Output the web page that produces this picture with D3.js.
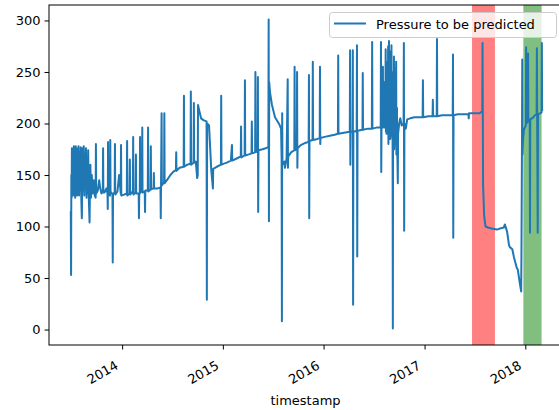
<!DOCTYPE html>
<html>
<head>
<meta charset="utf-8">
<script src="https://cdn.jsdelivr.net/npm/d3@7"></script>
<style>
  body { margin: 0; background: #fff; }
  text { font-family: "DejaVu Sans", sans-serif; fill: #000; }
</style>
</head>
<body>
<script>
// readings, one array per year: [date, pressure]
const y2013 = [
  ["2013-06-29",115],["2013-06-30",53],["2013-07-01",150],["2013-07-02",128],["2013-07-03",176],
  ["2013-07-05",130],["2013-07-06",172],["2013-07-08",135],["2013-07-10",178],["2013-07-11",130],
  ["2013-07-13",175],["2013-07-15",128],["2013-07-17",178],["2013-07-18",140],["2013-07-20",170],
  ["2013-07-22",130],["2013-07-24",176],["2013-07-25",132],["2013-07-27",178],["2013-07-29",130],
  ["2013-07-31",172],["2013-08-02",135],["2013-08-04",177],["2013-08-06",128],["2013-08-08",108],
  ["2013-08-09",130],["2013-08-11",176],["2013-08-13",135],["2013-08-15",178],["2013-08-17",130],
  ["2013-08-19",170],["2013-08-21",140],["2013-08-23",176],["2013-08-25",128],["2013-08-27",165],
  ["2013-08-29",132],["2013-08-31",174],["2013-09-02",130],["2013-09-05",104],["2013-09-06",130],
  ["2013-09-08",160],["2013-09-10",128],["2013-09-13",150],["2013-09-16",132],["2013-09-20",145],
  ["2013-09-24",130],["2013-09-27",128],["2013-09-28",180],["2013-09-29",132],["2013-10-05",135],
  ["2013-10-10",145],["2013-10-13",138],["2013-10-18",132],["2013-10-23",135],["2013-10-24",176],
  ["2013-10-25",133],["2013-10-29",133],["2013-11-05",137],["2013-11-09",132],["2013-11-10",117],
  ["2013-11-11",182],["2013-11-12",132],["2013-11-18",130],["2013-11-19",184],["2013-11-20",134],
  ["2013-11-27",131],["2013-11-28",65],["2013-11-29",132],["2013-12-05",133],["2013-12-06",180],
  ["2013-12-07",131],["2013-12-15",134],["2013-12-21",150],["2013-12-27",132],["2013-12-28",179],
  ["2013-12-29",130]
]
const y2014 = [
  ["2014-01-08",131],["2014-01-18",132],["2014-01-19",183],["2014-01-20",130],["2014-01-28",132],
  ["2014-01-29",165],["2014-01-30",131],["2014-02-05",133],["2014-02-09",134],["2014-02-10",187],
  ["2014-02-11",131],["2014-02-19",133],["2014-02-20",170],["2014-02-21",132],["2014-03-02",132],
  ["2014-03-03",108],["2014-03-04",131],["2014-03-06",132],["2014-03-07",187],["2014-03-08",133],
  ["2014-03-14",135],["2014-03-15",196],["2014-03-16",133],["2014-03-24",134],["2014-03-25",114],
  ["2014-03-26",135],["2014-04-04",135],["2014-04-05",196],["2014-04-06",134],["2014-04-14",136],
  ["2014-04-15",178],["2014-04-16",136],["2014-04-25",137],["2014-04-26",152],["2014-04-27",137],
  ["2014-05-10",137],["2014-05-20",138],["2014-05-21",108],["2014-05-22",140],["2014-05-24",210],
  ["2014-05-25",140],["2014-06-02",143],["2014-06-03",210],["2014-06-04",142],["2014-06-15",146],
  ["2014-06-25",150],["2014-07-05",153],["2014-07-15",155],["2014-07-16",172],["2014-07-17",154],
  ["2014-07-28",157],["2014-08-12",158],["2014-08-13",227],["2014-08-14",158],["2014-08-25",160],
  ["2014-09-06",161],["2014-09-07",231],["2014-09-08",160],["2014-09-17",162],["2014-09-18",220],
  ["2014-09-19",162],["2014-09-25",163],["2014-09-30",147],["2014-10-02",150],["2014-10-03",218],
  ["2014-10-08",212],["2014-10-14",205],["2014-10-24",203],["2014-11-03",202],["2014-11-04",29],
  ["2014-11-05",200],["2014-11-12",198],["2014-11-20",155],["2014-11-26",137],["2014-11-27",156],
  ["2014-12-10",158],["2014-12-25",160],["2014-12-26",227],["2014-12-27",160]
]
const y2015 = [
  ["2015-01-05",161],["2015-01-15",162],["2015-01-30",164],["2015-02-03",179],["2015-02-04",164],
  ["2015-02-20",166],["2015-03-07",168],["2015-03-08",197],["2015-03-09",167],["2015-03-21",169],
  ["2015-03-22",242],["2015-03-23",169],["2015-04-05",170],["2015-04-15",171],["2015-04-16",202],
  ["2015-04-17",171],["2015-04-28",172],["2015-04-29",250],["2015-04-30",173],["2015-05-07",172],
  ["2015-05-08",245],["2015-05-09",114],["2015-05-10",174],["2015-05-25",175],["2015-06-05",176],
  ["2015-06-15",177],["2015-06-16",301],["2015-06-17",105],["2015-06-18",240],["2015-06-21",230],
  ["2015-06-28",218],["2015-07-09",206],["2015-07-25",199],["2015-07-31",195],["2015-08-02",165],
  ["2015-08-03",8],["2015-08-04",210],["2015-08-05",160],["2015-08-12",163],["2015-08-14",157],
  ["2015-08-20",166],["2015-08-24",243],["2015-08-25",157],["2015-08-26",168],["2015-09-05",172],
  ["2015-09-17",174],["2015-09-18",255],["2015-09-19",174],["2015-09-26",175],["2015-09-27",250],
  ["2015-09-28",157],["2015-09-29",176],["2015-10-10",179],["2015-10-25",181],["2015-11-08",182],
  ["2015-11-09",247],["2015-11-10",108],["2015-11-11",183],["2015-11-22",184],["2015-11-23",260],
  ["2015-11-24",184],["2015-12-10",185],["2015-12-18",186],["2015-12-19",255],["2015-12-20",180],
  ["2015-12-21",186]
]
const y2016 = [
  ["2016-01-05",187],["2016-01-24",188],["2016-02-10",189],["2016-02-22",190],["2016-02-23",266],
  ["2016-02-24",190],["2016-03-15",191],["2016-04-05",192],["2016-04-06",271],["2016-04-07",160],
  ["2016-04-08",192],["2016-04-15",192],["2016-04-16",271],["2016-04-17",24],["2016-04-18",192],
  ["2016-04-30",193],["2016-05-01",276],["2016-05-02",71],["2016-05-03",193],["2016-05-21",194],
  ["2016-05-22",249],["2016-05-23",194],["2016-06-10",195],["2016-06-24",195],["2016-06-25",279],
  ["2016-06-26",195],["2016-07-10",196],["2016-07-26",196],["2016-07-27",279],["2016-07-28",153],
  ["2016-07-29",196],["2016-08-02",197],["2016-08-03",255],["2016-08-04",196],["2016-08-05",197],
  ["2016-08-08",240],["2016-08-09",196],["2016-08-12",198],["2016-08-13",272],["2016-08-14",192],
  ["2016-08-15",260],["2016-08-16",190],["2016-08-20",198],["2016-08-22",275],["2016-08-23",180],
  ["2016-08-25",280],["2016-08-26",200],["2016-08-28",266],["2016-08-29",185],["2016-09-01",270],
  ["2016-09-02",190],["2016-09-03",276],["2016-09-04",188],["2016-09-05",250],["2016-09-06",185],
  ["2016-09-07",200],["2016-09-08",1],["2016-09-09",210],["2016-09-10",240],["2016-09-11",178],
  ["2016-09-12",265],["2016-09-13",175],["2016-09-16",230],["2016-09-17",180],["2016-09-20",260],
  ["2016-09-21",170],["2016-09-23",215],["2016-09-24",176],["2016-09-26",142],["2016-09-27",190],
  ["2016-10-01",200],["2016-10-05",205],["2016-10-10",198],["2016-10-17",200],["2016-10-18",278],
  ["2016-10-19",96],["2016-10-20",200],["2016-10-25",195],["2016-10-30",204],["2016-11-10",205],
  ["2016-11-25",206],["2016-12-10",206],["2016-12-25",206],["2016-12-26",242],["2016-12-27",206]
]
const y2017 = [
  ["2017-01-15",207],["2017-01-30",207],["2017-01-31",223],["2017-02-01",207],["2017-02-14",207],
  ["2017-02-15",282],["2017-02-16",207],["2017-03-05",208],["2017-03-25",208],["2017-04-13",208],
  ["2017-04-14",267],["2017-04-15",89],["2017-04-16",208],["2017-05-01",209],["2017-05-20",209],
  ["2017-06-09",209],["2017-06-10",205],["2017-06-11",210],["2017-07-01",210],["2017-07-20",210],
  ["2017-07-29",212],["2017-07-30",278],["2017-07-31",210],["2017-08-01",140],["2017-08-05",110],
  ["2017-08-10",100],["2017-08-19",99],["2017-09-01",98],["2017-09-20",97],["2017-10-01",98],
  ["2017-10-15",99],["2017-10-19",102],["2017-10-27",95],["2017-11-03",82],["2017-11-06",80],
  ["2017-11-15",78],["2017-11-21",70],["2017-12-01",60],["2017-12-05",58],["2017-12-12",45],
  ["2017-12-17",37],["2017-12-18",70],["2017-12-20",180],["2017-12-21",262],["2017-12-22",170],
  ["2017-12-24",185],["2017-12-27",194]
]
const y2018 = [
  ["2018-01-03",198],["2018-01-04",274],["2018-01-05",200],["2018-01-10",202],["2018-01-11",268],
  ["2018-01-12",202],["2018-01-17",203],["2018-01-18",94],["2018-01-19",204],["2018-01-30",206],
  ["2018-02-05",208],["2018-02-11",209],["2018-02-12",273],["2018-02-13",208],["2018-02-15",94],
  ["2018-02-16",209],["2018-02-25",210],["2018-03-01",211],["2018-03-02",278],["2018-03-03",212]
]

const bandStart = ["2017-06-22", "2017-12-25"]
const bandEnd = ["2017-09-13", "2018-03-01"]
const bandColor = ["#ff8080", "#80bf80"]
const xTickYears = ["2014", "2015", "2016", "2017", "2018"]
const yTicks = [0, 50, 100, 150, 200, 250, 300]
const seriesName = "Pressure to be predicted"

const width = 559
const height = 410
const mLeft = 49, mRight = 562, mTop = 5, mBottom = 345

const parse = d3.utcParse("%Y-%m-%d")
const series = [].concat(y2013, y2014, y2015, y2016, y2017, y2018)
    .map(d => ({ date: parse(d[0]), value: d[1] }))

const svg = d3.select("body").append("svg")
    .attr("width", width)
    .attr("height", height)

const xScale = d3.scaleUtc()
    .domain([parse("2013-04-11"), parse("2018-05-14")])
    .range([mLeft, mRight])
const yScale = d3.scaleLinear()
    .domain([-15, 315])
    .range([mBottom, mTop])

svg.append("clipPath").attr("id", "plot")
    .append("rect")
    .attr("x", mLeft).attr("y", mTop)
    .attr("width", mRight - mLeft).attr("height", mBottom - mTop)

// shaded periods
svg.append("g")
    .selectAll("rect")
    .data(bandStart)
    .enter()
    .append("rect")
    .attr("x", d => xScale(parse(d)))
    .attr("y", mTop)
    .attr("width", (d, i) => xScale(parse(bandEnd[i])) - xScale(parse(d)))
    .attr("height", mBottom - mTop)
    .attr("fill", (d, i) => bandColor[i])

const line = d3.line()
    .x(d => xScale(d.date))
    .y(d => yScale(d.value))

svg.append("path")
    .datum(series)
    .attr("clip-path", "url(#plot)")
    .attr("d", line)
    .attr("fill", "none")
    .attr("stroke", "#1f77b4")
    .attr("stroke-width", 2)
    .attr("stroke-linejoin", "round")

// axes
const xAxis = d3.axisBottom(xScale)
    .tickValues(xTickYears.map(y => parse(y + "-01-01")))
    .tickSize(4.5)
    .tickFormat(d3.utcFormat("%Y"))
const gx = svg.append("g")
    .attr("transform", "translate(0," + mBottom + ")")
    .call(xAxis)
gx.select(".domain").remove()
gx.selectAll(".tick line").attr("stroke", "#000").attr("stroke-width", 1)
gx.selectAll(".tick text")
    .attr("font-size", 13)
    .attr("text-anchor", "end")
    .attr("dy", null)
    .attr("y", null)
    .attr("transform", "translate(-3.5,23) rotate(-30)")

const yAxis = d3.axisLeft(yScale)
    .tickValues(yTicks)
    .tickSize(4.5)
    .tickPadding(4)
const gy = svg.append("g")
    .attr("transform", "translate(" + mLeft + ",0)")
    .call(yAxis)
gy.select(".domain").remove()
gy.selectAll(".tick line").attr("stroke", "#000").attr("stroke-width", 1)
gy.selectAll(".tick text").attr("font-size", 13)

svg.append("rect")
    .attr("x", mLeft).attr("y", mTop)
    .attr("width", mRight - mLeft).attr("height", mBottom - mTop)
    .attr("fill", "none")
    .attr("stroke", "#000")
    .attr("stroke-width", 1)

svg.append("text")
    .attr("x", (mLeft + mRight) / 2)
    .attr("y", 405)
    .attr("text-anchor", "middle")
    .attr("font-size", 13)
    .text("timestamp")

// legend
const legend = svg.append("g")
legend.append("rect")
    .attr("x", 329.5).attr("y", 12.5)
    .attr("width", 227).attr("height", 25)
    .attr("rx", 3)
    .attr("fill", "#fff").attr("fill-opacity", 0.8)
    .attr("stroke", "#cccccc")
legend.append("line")
    .attr("x1", 334).attr("x2", 366)
    .attr("y1", 23.5).attr("y2", 23.5)
    .attr("stroke", "#1f77b4").attr("stroke-width", 2)
legend.append("text")
    .attr("x", 376).attr("y", 28.5)
    .attr("font-size", 13)
    .attr("fill", "#222")
    .text(seriesName)
</script>
</body>
</html>
